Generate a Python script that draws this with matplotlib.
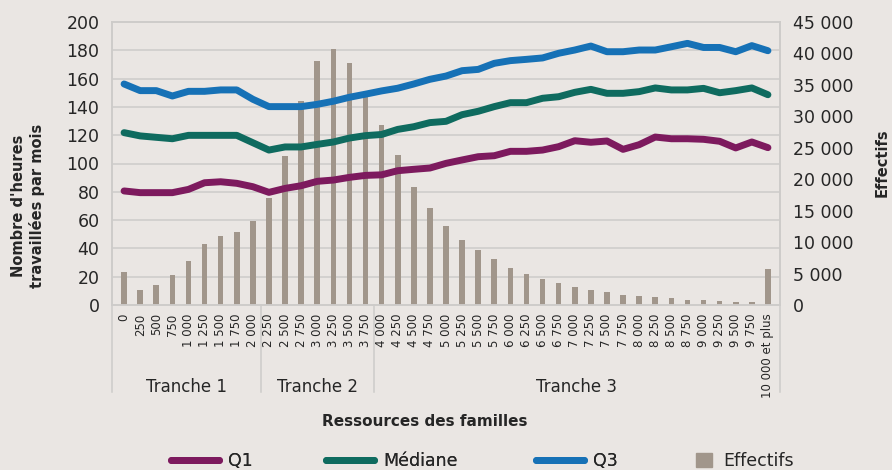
import numpy as np
import matplotlib
matplotlib.use("Agg")
import matplotlib.pyplot as plt
from matplotlib.lines import Line2D
from matplotlib.patches import Rectangle
from matplotlib.ticker import FixedLocator, FuncFormatter
from matplotlib.transforms import blended_transform_factory

# ---------------------------------------------------------------- data
categories = ["0", "250", "500", "750", "1 000", "1 250", "1 500", "1 750", "2 000",
              "2 250", "2 500", "2 750", "3 000", "3 250", "3 500", "3 750",
              "4 000", "4 250", "4 500", "4 750", "5 000", "5 250", "5 500", "5 750",
              "6 000", "6 250", "6 500", "6 750", "7 000", "7 250", "7 500", "7 750",
              "8 000", "8 250", "8 500", "8 750", "9 000", "9 250", "9 500", "9 750",
              "10 000 et plus"]

tranches = ["Tranche 1", "Tranche 2", "Tranche 3"]
tranche_sizes = [9, 7, 25]

q1 = [80.6, 79.4, 79.4, 79.4, 81.7, 86.4, 87.1, 86.0, 83.6, 79.6, 82.4, 84.3, 87.4,
      88.3, 90.2, 91.6, 92.0, 94.9, 95.9, 96.8, 100.1, 102.5, 104.8, 105.5, 108.6,
      108.6, 109.5, 111.9, 116.1, 115.0, 115.9, 110.0, 113.3, 118.7, 117.5, 117.5,
      117.1, 115.7, 111.0, 115.2, 111.2]

mediane = [121.8, 119.5, 118.5, 117.5, 119.9, 119.9, 119.9, 119.9, 114.7, 109.5,
           111.7, 111.7, 113.5, 115.2, 118.0, 119.7, 120.5, 124.1, 126.0, 128.9,
           129.8, 134.5, 136.9, 140.2, 143.0, 143.0, 146.1, 147.2, 150.3, 152.4,
           149.6, 149.6, 150.8, 153.4, 152.0, 152.0, 153.1, 150.0, 151.5, 153.4, 148.6]

q3 = [156.2, 151.5, 151.5, 147.7, 151.0, 151.0, 152.0, 152.0, 145.4, 140.2, 140.2,
      140.2, 141.8, 144.0, 146.8, 149.0, 151.3, 153.2, 156.2, 159.5, 161.8, 165.6,
      166.5, 170.8, 172.7, 173.6, 174.6, 177.9, 180.2, 183.0, 179.0, 179.0, 180.2,
      180.2, 182.5, 184.9, 182.0, 182.0, 179.0, 183.3, 179.7]

effectifs = [5200, 2400, 3150, 4770, 7000, 9650, 10900, 11600, 13400, 17050, 23700,
             32450, 38800, 40650, 38450, 33050, 28600, 23800, 18800, 15450, 12550,
             10300, 8800, 7250, 5850, 4950, 4200, 3550, 2850, 2400, 2050, 1600, 1500,
             1250, 1050, 800, 750, 650, 550, 400, 5800]

series_names = ["Q1", "Médiane", "Q3"]
bar_name = "Effectifs"

# ---------------------------------------------------------------- style
BG = "#eae6e3"
GRID = "#cdcbc9"
TXT = "#262626"
C_Q1 = "#7d1a5e"
C_MED = "#0f6b5f"
C_Q3 = "#1671b6"
C_BAR = "#a1968b"

plt.rcParams["font.family"] = ["DejaVu Sans"]
plt.rcParams["text.color"] = TXT

W, H = 892, 470
fig = plt.figure(figsize=(W / 100, H / 100), dpi=100, facecolor=BG)
ax = fig.add_axes([112 / W, 1 - 305 / H, 668 / W, 283 / H])
ax2 = ax.twinx()

x = np.arange(len(categories))

# bars on the right-hand axis (behind)
ax2.bar(x, effectifs, width=0.35, color=C_BAR, zorder=2)
ax2.set_ylim(0, 45000)
ax2.set_yticks(np.arange(0, 45001, 5000))
ax2.yaxis.set_major_formatter(FuncFormatter(lambda v, p: f"{int(v):,}".replace(",", " ")))
ax2.yaxis.set_minor_locator(FixedLocator(np.arange(0, 45001, 4500)))
ax2.set_axisbelow(True)
ax2.grid(True, which="minor", axis="y", color=GRID, lw=1.1)
ax2.grid(False, which="major")
ax2.tick_params(axis="y", which="both", length=0, labelsize=12.5, pad=9, labelcolor=TXT)

# lines on the left-hand axis (in front)
ax.set_zorder(ax2.get_zorder() + 1)
ax.patch.set_visible(False)
lw = 5.0
colors = [C_Q1, C_MED, C_Q3]
for vals, c in zip([q1, mediane, q3], colors):
    ax.plot(x, vals, color=c, lw=lw, solid_capstyle="round", solid_joinstyle="round")
ax.set_ylim(0, 200)
ax.set_yticks(np.arange(0, 201, 20))
ax.tick_params(axis="y", length=0, labelsize=12.5, pad=9, labelcolor=TXT)

ax.set_xlim(-0.75, len(categories) - 0.25)
ax.set_xticks(x)
ax.set_xticklabels(categories, rotation=90, fontsize=8.5, color=TXT)
ax.tick_params(axis="x", length=0, pad=6)

for a in (ax, ax2):
    for s in a.spines.values():
        s.set_color(GRID)
        s.set_linewidth(1.1)

# category groups below the axis
trans = blended_transform_factory(ax.transData, ax.transAxes)
edges = np.concatenate([[0], np.cumsum(tranche_sizes)]) - 0.5
edges[0] = ax.get_xlim()[0]
edges[-1] = ax.get_xlim()[1]
for e in edges:
    ax.plot([e, e], [0, -0.307], transform=trans, color=GRID, lw=1.1, clip_on=False)
for name, lo, hi in zip(tranches, edges[:-1], edges[1:]):
    ax.text((lo + hi) / 2, -0.29, name, transform=trans, ha="center", va="center",
            fontsize=12, color=TXT)

fig.text(425 / W, 1 - 421 / H, "Ressources des familles", ha="center", va="center",
         fontsize=11, fontweight="bold")
fig.text(28 / W, 1 - 206 / H, "Nombre d'heures\ntravaillées par mois", rotation=90,
         ha="center", va="center", fontsize=10.5, fontweight="bold",
         multialignment="center", linespacing=1.25)
fig.text(882 / W, 1 - 163 / H, "Effectifs", rotation=90, ha="center", va="center",
         fontsize=10.5, fontweight="bold")

# legend: one entry per box so each sits at its own place along the bottom
fs = 12.5
fs_px = fs * 100 / 72
leg_y = 1 - 461 / H
leg_x = [170.5, 325.5, 535.5]
for name, c, lx in zip(series_names, colors, leg_x):
    h = Line2D([], [], color=c, lw=lw, solid_capstyle="round")
    lg = fig.legend([h], [name], frameon=False, fontsize=fs, loc="center left",
                    bbox_to_anchor=(lx / W, leg_y), borderpad=0, borderaxespad=0,
                    handlelength=48 / fs_px, handletextpad=9.5 / fs_px)
    fig.add_artist(lg)
fig.legend([Rectangle((0, 0), 1, 1, color=C_BAR)], [bar_name], frameon=False,
           fontsize=fs, loc="center left", bbox_to_anchor=(696 / W, leg_y),
           borderpad=0, borderaxespad=0, handlelength=16 / fs_px,
           handleheight=16 / fs_px, handletextpad=11 / fs_px)

fig.savefig("out.png", dpi=100, facecolor=BG)
